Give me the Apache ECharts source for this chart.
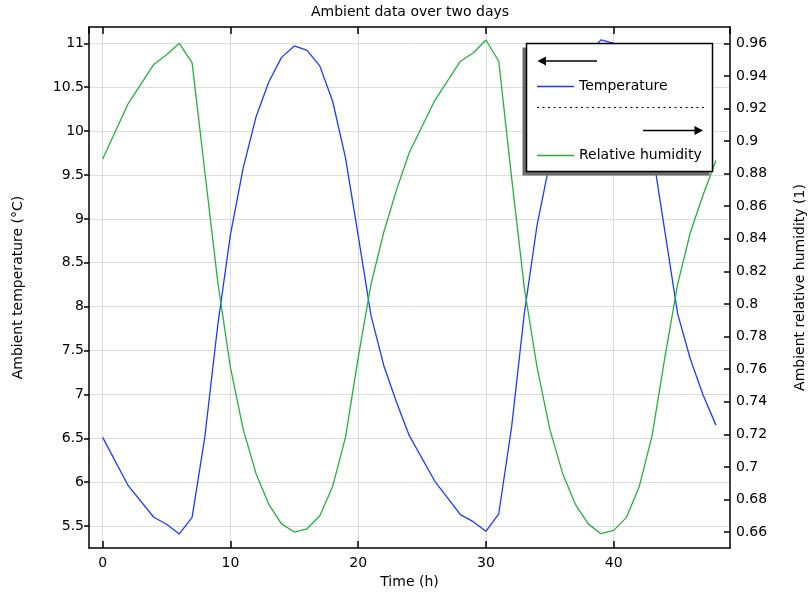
<!DOCTYPE html>
<html>
<head>
<meta charset="utf-8">
<style>
  html, body { margin: 0; padding: 0; background: #fff; }
  #chart { width: 811px; height: 593px; }
</style>
<script src="https://cdn.jsdelivr.net/npm/echarts@6/dist/echarts.min.js"></script>
</head>
<body>
<div id="chart"></div>
<script>
// ---- Data ----
const timeHours = [0, 2, 4, 5, 6, 7, 8, 9, 10, 11, 12, 13, 14, 15, 16, 17, 18, 19, 20, 21, 22, 23, 24,
  26, 28, 29, 30, 31, 32, 33, 34, 35, 36, 37, 38, 39, 40, 41, 42, 43, 44, 45, 46, 47, 48];

const temperature = [6.51, 5.96, 5.60, 5.52, 5.41, 5.60,
  6.52, 7.78, 8.82, 9.58, 10.16, 10.56, 10.84, 10.97, 10.92, 10.74, 10.34, 9.70, 8.81, 7.90, 7.33, 6.91, 6.53,
  6.01, 5.63, 5.55, 5.44, 5.64,
  6.62, 7.92, 8.93, 9.65, 10.20, 10.60, 10.88, 11.04, 11.00, 10.80, 10.40, 9.80, 8.86, 7.92, 7.40, 6.99, 6.65];

const humidity = [0.889, 0.923, 0.947, 0.953, 0.960, 0.948,
  0.881, 0.814, 0.761, 0.723, 0.696, 0.677, 0.665, 0.660, 0.662, 0.670, 0.688, 0.718, 0.767, 0.812, 0.844, 0.870, 0.893,
  0.925, 0.949, 0.954, 0.962, 0.949,
  0.878, 0.810, 0.761, 0.723, 0.696, 0.677, 0.665, 0.659, 0.661, 0.669, 0.688, 0.719, 0.767, 0.812, 0.844, 0.867, 0.888];

const seriesNames = ['Temperature', 'Relative humidity'];
const titleText = 'Ambient data over two days';
const xName = 'Time (h)';
const yLeftName = 'Ambient temperature (°C)';
const yRightName = 'Ambient relative humidity (1)';

// ---- Chart ----
const FONT = 'DejaVu Sans';
const chart = echarts.init(document.getElementById('chart'), null, { renderer: 'canvas' });

const fmt = v => String(parseFloat(Number(v).toFixed(3)));
const gridColor = '#dcdcdc';

const option = {
  animation: false,
  backgroundColor: '#ffffff',
  textStyle: { fontFamily: FONT },
  title: {
    text: titleText,
    left: 311,
    top: 5,
    padding: 0,
    textStyle: { fontFamily: FONT, fontSize: 14, fontWeight: 'normal', color: '#000' }
  },
  grid: { left: 89, right: 81, top: 27, bottom: 45, containLabel: false, outerBoundsMode: 'none' },
  legend: {
    orient: 'vertical',
    left: 537,
    top: 79.5,
    padding: 0,
    itemWidth: 37,
    itemHeight: 1.5,
    itemGap: 55,
    icon: 'rect',
    z: 200,
    textStyle: { fontFamily: FONT, fontSize: 14, color: '#000' },
    data: seriesNames
  },
  xAxis: [
    {
      type: 'value',
      position: 'bottom',
      min: -1.07,
      max: 49.1,
      minInterval: 10,
      maxInterval: 10,
      name: xName,
      nameLocation: 'middle',
      nameGap: 23,
      nameTextStyle: { fontFamily: FONT, fontSize: 14, color: '#000', verticalAlign: 'top' },
      axisLine: { show: true, onZero: false, lineStyle: { color: '#000', width: 1.5 } },
      axisTick: { show: true, inside: true, length: 7, lineStyle: { color: '#000', width: 1.5 } },
      axisLabel: { show: true, margin: 8, fontFamily: FONT, fontSize: 14, color: '#000',
        showMinLabel: false, showMaxLabel: false, formatter: fmt },
      splitLine: { show: true, showMinLine: false, showMaxLine: false, lineStyle: { color: gridColor, width: 1 } }
    },
    {
      type: 'value',
      position: 'top',
      min: -1.07,
      max: 49.1,
      minInterval: 10,
      maxInterval: 10,
      axisLine: { show: true, onZero: false, lineStyle: { color: '#000', width: 1.5 } },
      axisTick: { show: true, inside: true, length: 7, lineStyle: { color: '#000', width: 1.5 } },
      axisLabel: { show: false },
      splitLine: { show: false }
    }
  ],
  yAxis: [
    {
      type: 'value',
      position: 'left',
      min: 5.25,
      max: 11.186,
      minInterval: 0.5,
      maxInterval: 0.5,
      name: yLeftName,
      nameLocation: 'middle',
      nameGap: 64,
      nameTextStyle: { fontFamily: FONT, fontSize: 14, color: '#000' },
      axisLine: { show: true, onZero: false, lineStyle: { color: '#000', width: 1.5 } },
      axisTick: { show: true, inside: false, length: 5, lineStyle: { color: '#000', width: 1.5 } },
      axisLabel: { show: true, margin: 5, fontFamily: FONT, fontSize: 14, color: '#000',
        showMinLabel: false, showMaxLabel: false, formatter: fmt },
      splitLine: { show: true, showMinLine: false, showMaxLine: false, lineStyle: { color: gridColor, width: 1 } }
    },
    {
      type: 'value',
      position: 'right',
      min: 0.6502,
      max: 0.97,
      minInterval: 0.02,
      maxInterval: 0.02,
      name: yRightName,
      nameLocation: 'middle',
      nameGap: 63,
      nameTextStyle: { fontFamily: FONT, fontSize: 14, color: '#000' },
      axisLine: { show: true, onZero: false, lineStyle: { color: '#000', width: 1.5 } },
      axisTick: { show: true, inside: true, length: 6, lineStyle: { color: '#000', width: 1.5 } },
      axisLabel: { show: true, margin: 6, fontFamily: FONT, fontSize: 14, color: '#000',
        showMinLabel: false, showMaxLabel: false, formatter: fmt },
      splitLine: { show: false }
    }
  ],
  series: [
    {
      name: seriesNames[0],
      type: 'line',
      xAxisIndex: 0,
      yAxisIndex: 0,
      showSymbol: false,
      symbol: 'none',
      color: '#1a3cff',
      lineStyle: { color: '#1a3cff', width: 1.3 },
      data: timeHours.map((t, i) => [t, temperature[i]])
    },
    {
      name: seriesNames[1],
      type: 'line',
      xAxisIndex: 0,
      yAxisIndex: 1,
      showSymbol: false,
      symbol: 'none',
      color: '#25b23a',
      lineStyle: { color: '#25b23a', width: 1.3 },
      data: timeHours.map((t, i) => [t, humidity[i]])
    }
  ],
  graphic: [
    { type: 'rect', z: 100, shape: { x: 522.5, y: 47.5, width: 187, height: 128 }, style: { fill: '#6b6b6b' } },
    { type: 'rect', z: 101, shape: { x: 526.5, y: 43.5, width: 186, height: 128 },
      style: { fill: '#ffffff', stroke: '#000', lineWidth: 1.5 } },
    // left arrow (temperature -> left axis)
    { type: 'line', z: 102, shape: { x1: 544, y1: 61, x2: 597, y2: 61 }, style: { stroke: '#000', lineWidth: 1.5 } },
    { type: 'polygon', z: 102, shape: { points: [[537.5, 61], [546, 56.5], [546, 65.5]] }, style: { fill: '#000' } },
    // dotted separator
    { type: 'line', z: 102, shape: { x1: 537, y1: 107.5, x2: 704, y2: 107.5 },
      style: { stroke: '#000', lineWidth: 1, lineDash: [2, 3.5] } },
    // right arrow (humidity -> right axis)
    { type: 'line', z: 102, shape: { x1: 643, y1: 130.5, x2: 696, y2: 130.5 }, style: { stroke: '#000', lineWidth: 1.5 } },
    { type: 'polygon', z: 102, shape: { points: [[703, 130.5], [694.5, 126], [694.5, 135]] }, style: { fill: '#000' } }
  ]
};

chart.setOption(option);
</script>
</body>
</html>
